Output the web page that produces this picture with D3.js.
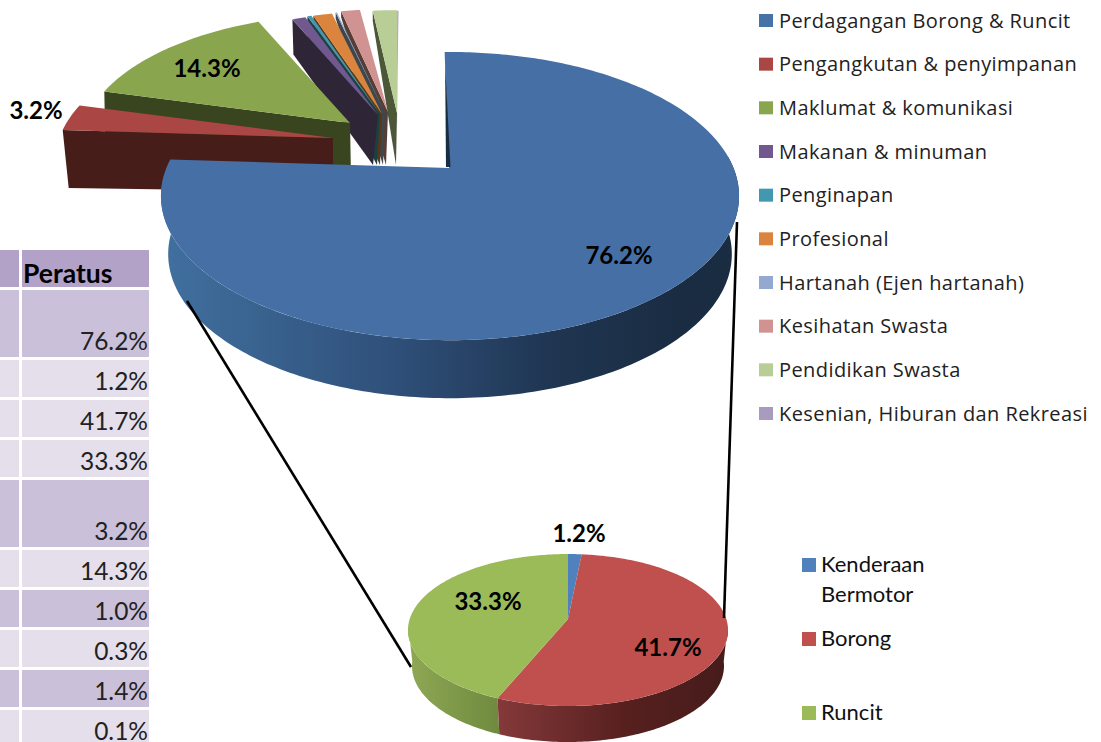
<!DOCTYPE html>
<html><head><meta charset="utf-8">
<script src="https://cdn.jsdelivr.net/npm/d3@7"></script>
<style>html,body{margin:0;padding:0;background:#fff;overflow:hidden}svg{display:block}</style>
</head><body><svg id="c" width="1101" height="742"></svg>
<script>
// ---------- data ----------
const mainCategories = ["Perdagangan Borong & Runcit","Pengangkutan & penyimpanan","Maklumat & komunikasi","Makanan & minuman","Penginapan","Profesional","Hartanah (Ejen hartanah)","Kesihatan Swasta","Pendidikan Swasta","Kesenian, Hiburan dan Rekreasi"];
const mainValues = [76.2,3.2,14.3,1.0,0.3,1.4,0.1,1.4,1.8,0.1];
const mainColors = ["#4572a7","#aa4643","#89a54e","#71588f","#4198af","#db843d","#93a9cf","#d19392","#b9cd96","#a99bbd"];
const subCategories = ["Kenderaan\nBermotor","Borong","Runcit"];
const subValues = [1.2,41.7,33.3];
const subColors = ["#4f81bd","#c0504d","#9bbb59"];
const tableHeader = "Peratus";
const tableValues = ["76.2%","1.2%","41.7%","33.3%","3.2%","14.3%","1.0%","0.3%","1.4%","0.1%"];
const tableTall = [true,false,false,false,true,false,false,false,false,false];
const tableDark = [true,false,false,false,true,false,true,false,true,false];

// ---------- layout ----------
const FONT = "Lato, 'Open Sans', sans-serif";
const mainProj = {f:285, g:135.8, k:0.171};
const blueProj = {f:283.5, g:138.6, k:0.195};
const subProj = {f:158.3, g:74.4, k:0.145};
// surface apex, radius, angular nudge (deg), wall depth at corner/apex, wall x shift at corner/apex
const sliceLayout = [
 {ax:450,ay:168,r:1,rot:0},
 {ax:333,ay:138,r:.96,rot:0,dc:58,da:54,sc:6,sa:0},
 {ax:350,ay:123,r:.93,rot:0,dc:50,da:55,sc:1,sa:1},
 {ax:378,ay:115,r:.87,rot:.2,dc:35,da:50,sc:1,sa:-5},
 {ax:380,ay:114,r:.87,rot:.2,dc:20,da:51,sc:0,sa:-3},
 {ax:382,ay:114,r:.87,rot:.2,dc:8,da:51,sc:0,sa:-2},
 {ax:385,ay:113,r:.87,rot:.4,dc:6,da:52,sc:0,sa:-2},
 {ax:388,ay:112,r:.87,rot:.7,dc:6,da:53,sc:0,sa:-2},
 {ax:397,ay:113,r:.87,rot:1.7,dc:10,da:52,sc:0,sa:-1},
 {ax:397,ay:113,r:.865,rot:1.7,dc:4,da:52,sc:0,sa:0}
];

const svg = d3.select("#c");
const defs = svg.append("defs");
const rad = Math.PI/180;
function project(p, ax, ay, theta, r){
  const X = Math.sin(theta)*r, Z = -Math.cos(theta)*r, w = 1 - p.k*Z;
  return [ax + p.f*X/w, ay + p.g*Z/w];
}
const line = d3.line();
function gradient(id, x1, x2, stops){
  const g = defs.append("linearGradient").attr("id",id).attr("gradientUnits","userSpaceOnUse")
    .attr("x1",x1).attr("x2",x2).attr("y1",0).attr("y2",0);
  stops.forEach(s=>g.append("stop").attr("offset",s[0]).attr("stop-color",s[1]));
}
function arcPts(p, ax, ay, a0, a1, r){
  const n = Math.max(2, Math.ceil((a1-a0)/(1*rad)));
  return d3.range(n+1).map(i=>project(p,ax,ay,a0+(a1-a0)*i/n,r));
}
function roundWall(p, ax, ay, a0, a1, depth, scale, fill){
  const top = arcPts(p,ax,ay,a0,a1,1);
  const bot = top.map(q=>[ax+(q[0]-ax)*scale, q[1]+depth]).reverse();
  svg.append("path").attr("d",line(top.concat(bot))+"Z").attr("fill",fill);
}

// ---------- main pie ----------
const mainPie = d3.pie().sort(null).startAngle(-1.3*rad).endAngle((360-1.3)*rad)(mainValues);
gradient("gBlue",160,740,[[0,"#41709f"],[.4,"#2f507a"],[.68,"#1f3551"],[.9,"#1a2c42"],[1,"#1a2c42"]]);

// exploded slices, back to front
for(let i=mainPie.length-1;i>=1;i--){
  const a = mainPie[i], L = sliceLayout[i], col = mainColors[i];
  const a0 = a.startAngle + L.rot*rad, a1 = a.endAngle + L.rot*rad;
  const corner = project(mainProj,L.ax,L.ay,a0,L.r);
  const wall = d3.color(col); 
  const dark = d3.rgb(wall.r*.41,wall.g*.42,wall.b*.38);
  svg.append("path").attr("d",line([corner,[L.ax,L.ay],[L.ax+L.sa,L.ay+L.da],[corner[0]+L.sc,corner[1]+L.dc]])+"Z").attr("fill",dark);
  const surf = [[L.ax,L.ay]].concat(arcPts(mainProj,L.ax,L.ay,a0,a1,L.r));
  svg.append("path").attr("d",line(surf)+"Z").attr("fill",col);
}
// large slice
{
  const a = mainPie[0], L = sliceLayout[0];
  roundWall(blueProj,L.ax,L.ay,85*rad,a.endAngle,58,.975,"url(#gBlue)");
  const surf = [[L.ax-1,L.ay]].concat(arcPts(blueProj,L.ax,L.ay,a.startAngle,a.endAngle,1));
  svg.append("path").attr("d",line(surf)+"Z").attr("fill","#456fa5");
  const corner = project(blueProj,L.ax,L.ay,a.startAngle,1);
  svg.append("path").attr("d",line([[corner[0]+.5,corner[1]+12],[L.ax+.5,L.ay-1],[L.ax-4,L.ay-1]])+"Z").attr("fill","#1a2c42");
}

// connectors
const connectors = [[[187,301],[411,667]],[[737,222],[724,618]]];

// ---------- sub pie ----------
const subPie = d3.pie().sort(null).startAngle(0).endAngle(2*Math.PI)(subValues);
const sub = {ax:568,ay:619};
gradient("gSubG",408,500,[[0,"#8fa854"],[1,"#6f8a3f"]]);
gradient("gSubR",496,727,[[0,"#85393a"],[.55,"#57201f"],[1,"#451c1b"]]);
roundWall(subProj,sub.ax,sub.ay,subPie[2].startAngle,265*rad,36,.975,"url(#gSubG)");
roundWall(subProj,sub.ax,sub.ay,95*rad,subPie[1].endAngle,36,.975,"url(#gSubR)");
subPie.forEach((a,i)=>{
  const surf = [[sub.ax,sub.ay]].concat(arcPts(subProj,sub.ax,sub.ay,a.startAngle,a.endAngle,1));
  svg.append("path").attr("d",line(surf)+"Z").attr("fill",subColors[i]);
});
connectors.forEach(c=>svg.append("path").attr("d",line(c)).attr("stroke","#000").attr("stroke-width",2.6).attr("fill","none"));

// ---------- data labels ----------
const labelPos = [[619,254,"76.2%"],[36,109,"3.2%"],[207,67,"14.3%"],[579,532,"1.2%"],[668,646,"41.7%"],[488,600,"33.3%"]];
svg.selectAll("text.lab").data(labelPos).join("text").attr("class","lab")
  .attr("x",d=>d[0]).attr("y",d=>d[1]).attr("text-anchor","middle").attr("dominant-baseline","central")
  .attr("font-family",FONT).attr("font-weight",700).attr("font-size",24).attr("fill","#000").text(d=>d[2]);

// ---------- main legend ----------
const legendY = d3.scalePoint().domain(mainCategories).range([20,413]);
const lg = svg.append("g").selectAll("g").data(mainCategories).join("g")
  .attr("transform",d=>`translate(0,${legendY(d)})`);
lg.append("rect").attr("x",759).attr("y",-6).attr("width",14).attr("height",13).attr("fill",(d,i)=>mainColors[i]);
lg.append("text").attr("x",779).attr("dominant-baseline","central").attr("font-family","'Open Sans',sans-serif")
  .attr("font-size",20).attr("letter-spacing",.42).attr("fill","#222").text(d=>d);

// ---------- sub legend ----------
const subRows = [565,639,713];
subCategories.forEach((c,i)=>{
  svg.append("rect").attr("x",802).attr("y",subRows[i]-7).attr("width",14).attr("height",14).attr("fill",subColors[i]);
  c.split("\n").forEach((t,j)=>svg.append("text").attr("x",821).attr("y",subRows[i]-2+j*30)
    .attr("dominant-baseline","central").attr("font-family",FONT).attr("font-size",22).attr("fill","#111").text(t));
});

// ---------- table ----------
const cols = [[-2,19],[22,149]];
cols.forEach(c=>svg.append("rect").attr("x",c[0]).attr("y",250).attr("width",c[1]-c[0]).attr("height",37).attr("fill","#b3a2c7"));
svg.append("text").attr("x",23).attr("y",273).attr("dominant-baseline","central").attr("font-family",FONT).attr("font-weight",700).attr("font-size",26.5).attr("fill","#000").text(tableHeader);
let y = 290;
tableValues.forEach((v,i)=>{
  const h = tableTall[i]?67:37;
  cols.forEach(c=>svg.append("rect").attr("x",c[0]).attr("y",y).attr("width",c[1]-c[0]).attr("height",h).attr("fill",tableDark[i]?"#cbc0da":"#e5dfec"));
  svg.append("text").attr("x",148).attr("y",y+h-7.5).attr("text-anchor","end").attr("font-family",FONT).attr("font-size",24.5).attr("fill","#222").text(v);
  y += h+3;
});
</script></body></html>
